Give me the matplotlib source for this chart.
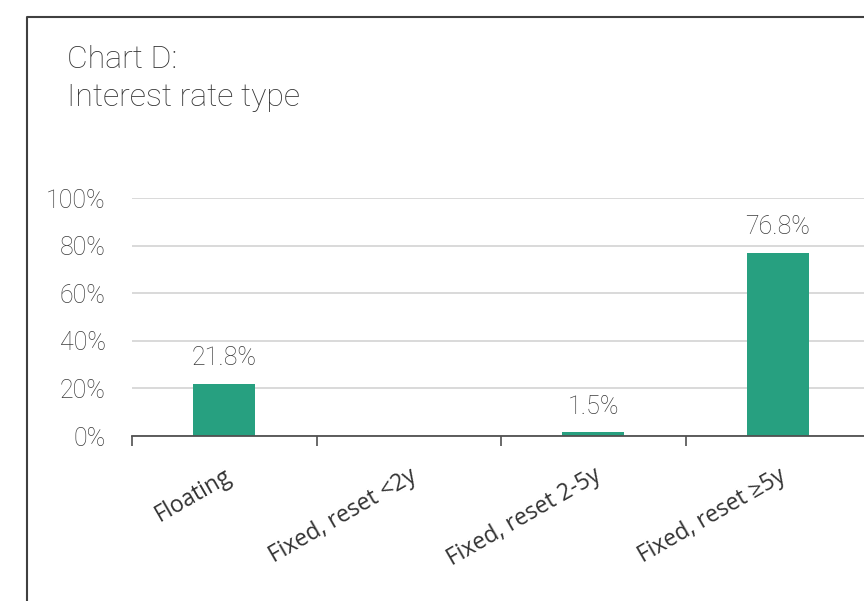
import numpy as np
import matplotlib.pyplot as plt
from matplotlib.lines import Line2D

categories = ['Floating', 'Fixed, reset <2y', 'Fixed, reset 2-5y', 'Fixed, reset \u22655y']
shares = [21.8, 0.0, 1.5, 76.8]
bar_labels = ['21.8%', '', '1.5%', '76.8%']
yticks = [0, 20, 40, 60, 80, 100]

W, H = 864, 601
fig = plt.figure(figsize=(W / 100, H / 100), dpi=100)

# axes span from the first tick (x=132px) to past the right edge
ax = fig.add_axes([132 / W, (H - 436) / H, (W - 132) / W, 238 / H])
x = np.arange(len(categories))
ax.bar(x, shares, width=0.336, color='#27a080', zorder=3)
ax.set_xlim(-0.5, (W - 132) / 184.5 - 0.5)
ax.set_ylim(0, 100)

ax.set_yticks(yticks)
ax.set_yticklabels([f'{t}%' for t in yticks], fontfamily='Roboto', fontweight='light',
                   fontsize=18, color='#3c3c3c')
ax.tick_params(axis='y', length=0, pad=19)
ax.grid(axis='y', color='#d0d0d0', linewidth=1.1, zorder=0)

ax.set_xticks(x - 0.5, minor=False)
ax.set_xticklabels([])
ax.tick_params(axis='x', direction='out', length=7, width=1.2, color='#505050')
for xi, lab in zip(x, categories):
    ax.annotate(lab, (xi, 0), xycoords=('data', 'axes fraction'), xytext=(0, -20),
                textcoords='offset points', rotation=30, ha='right', va='top',
                rotation_mode='anchor', fontfamily='Open Sans', fontsize=16.5, color='#333333')

for xi, v, lab in zip(x, shares, bar_labels):
    if lab:
        ax.annotate(lab, (xi, v), xytext=(0, 10), textcoords='offset points', ha='center',
                    va='bottom', fontfamily='Roboto', fontweight='light', fontsize=18,
                    color='#3c3c3c')

for s in ['top', 'right', 'left']:
    ax.spines[s].set_visible(False)
ax.spines['bottom'].set_color('#505050')
ax.spines['bottom'].set_linewidth(1.3)
ax.spines['bottom'].set_zorder(4)

fig.text(67 / W, 1 - 68 / H, 'Chart D:', fontfamily='Roboto', fontweight='light',
         fontsize=23, color='#333333', va='baseline')
fig.text(67 / W, 1 - 106 / H, 'Interest rate type', fontfamily='Roboto', fontweight='light',
         fontsize=23, color='#333333', va='baseline')

# outer frame, cut at the right and bottom
fig.add_artist(Line2D([27 / W, 27 / W, 1.0], [0.0, 1 - 17 / H, 1 - 17 / H],
                      transform=fig.transFigure, color='#404040', linewidth=1.5))

fig.savefig('out.png', dpi=100)
